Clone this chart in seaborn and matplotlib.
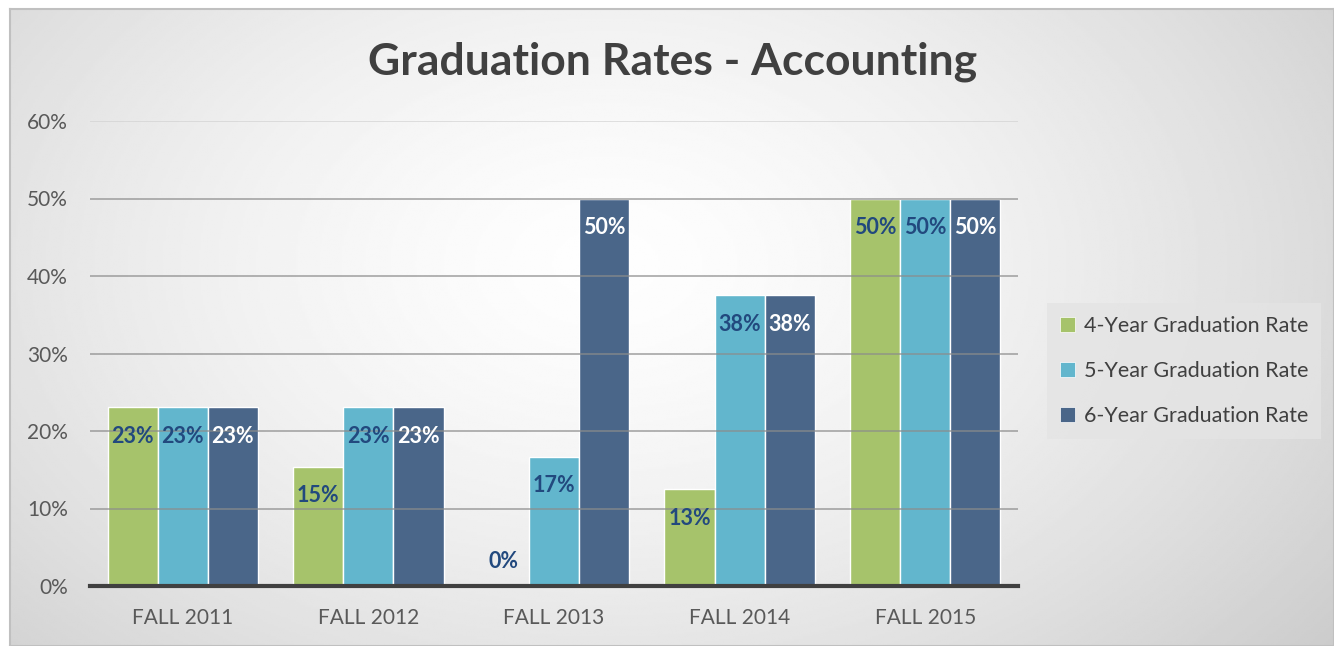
import numpy as np
import pandas as pd
import matplotlib
matplotlib.use("Agg")
import matplotlib.pyplot as plt
import seaborn as sns

# ---- data ----
terms = ["FALL 2011", "FALL 2012", "FALL 2013", "FALL 2014", "FALL 2015"]
rate_4yr = [23.08, 15.38, 0.0, 12.5, 50.0]
rate_5yr = [23.08, 23.08, 16.67, 37.5, 50.0]
rate_6yr = [23.08, 23.08, 50.0, 37.5, 50.0]
series = ["4-Year Graduation Rate", "5-Year Graduation Rate", "6-Year Graduation Rate"]
colors = ["#A6C36B", "#62B6CD", "#4A6689"]
label_colors = ["#22497E", "#22497E", "white"]

df = pd.DataFrame({
    "term": terms * 3,
    "rate": rate_4yr + rate_5yr + rate_6yr,
    "series": [s for s in series for _ in terms],
})

sns.set_theme(style="white")
plt.rcParams["font.family"] = ["Lato", "DejaVu Sans"]

fig = plt.figure(figsize=(13.34, 6.46), dpi=100)

# gradient background frame
bg = fig.add_axes([10 / 1334, 0, 1 - 10 / 1334, 1 - 9 / 646], zorder=-5)
yy, xx = np.mgrid[0:1:300j, 0:1:600j]
d = np.sqrt(((xx - 0.45) * 1.25) ** 2 + ((yy - 0.4) * 0.9) ** 2)
img = 0.995 - 0.24 * np.clip(d, 0, 1) ** 1.5
bg.imshow(img, cmap="gray", vmin=0, vmax=1, aspect="auto", extent=[0, 1, 0, 1])
bg.set_xticks([])
bg.set_yticks([])
for s in bg.spines.values():
    s.set_color("#c0c0c0")
    s.set_linewidth(1.5)

ax = fig.add_axes([90 / 1334, 1 - 586 / 646, 928 / 1334, 465 / 646])
ax.patch.set_alpha(0)

sns.barplot(data=df, x="term", y="rate", hue="series", palette=colors,
            width=0.81, edgecolor="white", linewidth=1, saturation=1,
            legend=False, ax=ax, zorder=2)

ax.set_ylim(0, 60)
ax.set_xlim(-0.5, 4.5)
ax.set_yticks(range(0, 61, 10))
ax.set_yticklabels([f"{v}%" for v in range(0, 61, 10)])
ax.set_xlabel("")
ax.set_ylabel("")
ax.tick_params(axis="both", length=0, labelsize=15, colors="#595959")
ax.tick_params(axis="x", pad=16)
ax.tick_params(axis="y", pad=16)
for s in ["top", "right", "left"]:
    ax.spines[s].set_visible(False)
ax.spines["bottom"].set_color("#404040")
ax.spines["bottom"].set_linewidth(3)
ax.spines["bottom"].set_zorder(5)

for v in range(10, 61, 10):
    ax.axhline(v, color="#8c8c8c" if v < 60 else "#d0d0d0", lw=1.3, alpha=0.7, zorder=3)

# data labels
for cont, lc in zip(ax.containers, label_colors):
    for bar in cont:
        h = bar.get_height()
        cx = bar.get_x() + bar.get_width() / 2
        off = -21 if h > 0 else 18
        ax.annotate(f"{int(h + 0.5)}%", (cx, h), xytext=(0, off), textcoords="offset points",
                    ha="center", va="center", fontsize=15.5, fontweight="bold",
                    color=lc if h > 0 else "#22497E", zorder=6)

fig.text(0.504, 0.904, "Graduation Rates - Accounting", ha="center", va="center",
         fontsize=32, fontweight="bold", color="#404040")

handles = [plt.Rectangle((0, 0), 1, 1, fc=c, ec="white", lw=0.5) for c in colors]
leg = fig.legend(handles, series, loc="center left", bbox_to_anchor=(1047 / 1334, 1 - 371 / 646),
                 frameon=True, fontsize=15.5, handlelength=0.7, handleheight=0.7,
                 handletextpad=0.4, labelspacing=1.15, borderpad=0.6, borderaxespad=0)
leg.get_frame().set_facecolor("#e4e4e4")
leg.get_frame().set_edgecolor("none")
leg.get_frame().set_alpha(0.8)
leg.get_frame().set_boxstyle("square", pad=0)
for t in leg.get_texts():
    t.set_color("#404040")

fig.savefig("out.png", dpi=100)
